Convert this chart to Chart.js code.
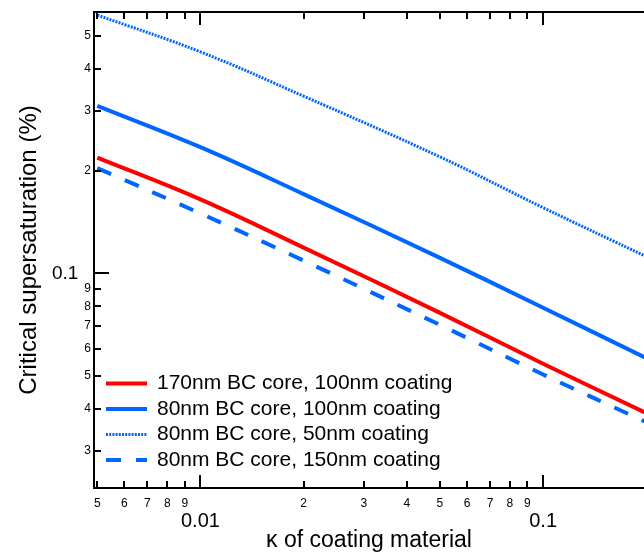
<!DOCTYPE html>
<html>
<head>
<meta charset="utf-8">
<script src="https://cdn.jsdelivr.net/npm/chart.js@4"></script>
<style>
  body { margin: 0; background: #fff; }
  canvas { display: block; }
</style>
</head>
<body>
<canvas id="ssChart" width="644" height="554"></canvas>
<script>
// kappa of coating material (x) and critical supersaturation in % (y)
const kappa = [0.005, 0.01, 0.02, 0.05, 0.1, 0.2];
const bc170coat100 = [0.219, 0.165, 0.119, 0.0765, 0.0542, 0.0388];
const bc80coat100 = [0.311, 0.235, 0.171, 0.111, 0.0792, 0.0563];
const bc80coat50 = [0.575, 0.448, 0.332, 0.220, 0.156, 0.112];
const bc80coat150 = [0.204, 0.150, 0.109, 0.0705, 0.0504, 0.0365];

const seriesLabels = [
  '170nm BC core, 100nm coating',
  '80nm BC core, 100nm coating',
  '80nm BC core, 50nm coating',
  '80nm BC core, 150nm coating'
];

const xTickValues = [0.005, 0.006, 0.007, 0.008, 0.009, 0.01, 0.02, 0.03, 0.04, 0.05, 0.06, 0.07, 0.08, 0.09, 0.1];
const xTickLabels = ['5', '6', '7', '8', '9', ['', '0.01'], '2', '3', '4', '5', '6', '7', '8', '9', ['', '0.1']];
const xMajor = [0.01, 0.1];

const yTickValues = [0.03, 0.04, 0.05, 0.06, 0.07, 0.08, 0.09, 0.1, 0.2, 0.3, 0.4, 0.5];
const yTickLabels = ['3', '4', '5', '6', '7', '8', '9', '0.1\u2002\u2006', '2', '3', '4', '5'];
const yMajor = [0.1];

const RED = '#ff0000';
const BLUE = '#0066ff';
const FONT = '"Liberation Sans", Arial, sans-serif';

function points(ys) {
  return kappa.map((k, i) => ({ x: k, y: ys[i] }));
}

function setTicks(values, majors) {
  return scale => {
    scale.ticks = values.map(v => ({ value: v, major: majors.includes(v) }));
  };
}

// inward tick marks, top frame line and the legend inside the plot
const axisFrame = {
  id: 'axisFrame',
  afterDraw(chart) {
    const { ctx, chartArea: a, scales: { x, y } } = chart;
    ctx.save();
    ctx.strokeStyle = '#000';
    ctx.lineWidth = 2;
    ctx.beginPath();
    ctx.moveTo(a.left - 1, a.top);
    ctx.lineTo(a.right, a.top);
    xTickValues.forEach(v => {
      const px = Math.round(x.getPixelForValue(v));
      const len = xMajor.includes(v) ? 13 : 7;
      ctx.moveTo(px, a.bottom);
      ctx.lineTo(px, a.bottom - len);
      ctx.moveTo(px, a.top);
      ctx.lineTo(px, a.top + len);
    });
    yTickValues.forEach(v => {
      const py = Math.round(y.getPixelForValue(v));
      const len = yMajor.includes(v) ? 15 : 7;
      ctx.moveTo(a.left, py);
      ctx.lineTo(a.left + len, py);
    });
    ctx.stroke();

    ctx.font = '21px ' + FONT;
    ctx.textBaseline = 'middle';
    ctx.textAlign = 'left';
    chart.data.datasets.forEach((ds, i) => {
      const rowY = 383.5 + i * 25.5;
      ctx.strokeStyle = ds.borderColor;
      ctx.lineWidth = ds.borderWidth;
      ctx.setLineDash(ds.borderDash || []);
      ctx.beginPath();
      ctx.moveTo(106, rowY);
      ctx.lineTo(147, rowY);
      ctx.stroke();
      ctx.setLineDash([]);
      ctx.fillStyle = '#000';
      ctx.fillText(ds.label, 157, rowY);
    });
    ctx.restore();
  }
};

new Chart(document.getElementById('ssChart'), {
  type: 'line',
  data: {
    datasets: [
      { label: seriesLabels[0], data: points(bc170coat100), borderColor: RED, borderWidth: 4 },
      { label: seriesLabels[1], data: points(bc80coat100), borderColor: BLUE, borderWidth: 4 },
      { label: seriesLabels[2], data: points(bc80coat50), borderColor: BLUE, borderWidth: 3, borderDash: [2, 1.2] },
      { label: seriesLabels[3], data: points(bc80coat150), borderColor: BLUE, borderWidth: 4, borderDash: [15, 15] }
    ]
  },
  options: {
    responsive: false,
    animation: false,
    layout: { padding: { top: 12, left: 0, right: 0, bottom: 0 } },
    elements: {
      point: { radius: 0 },
      line: { tension: 0.4, borderCapStyle: 'butt' }
    },
    plugins: {
      legend: { display: false },
      tooltip: { enabled: false }
    },
    scales: {
      x: {
        type: 'logarithmic',
        min: 0.00489,
        max: 0.197,
        afterBuildTicks: setTicks(xTickValues, xMajor),
        afterFit: s => { s.height = 66; },
        grid: { display: false, drawTicks: false },
        border: { display: true, color: '#000', width: 2 },
        ticks: {
          autoSkip: false,
          maxRotation: 0,
          minRotation: 0,
          padding: 8,
          color: '#000',
          font: c => xMajor.includes(c.tick && c.tick.value)
            ? { family: FONT, size: 20, lineHeight: 0.85 }
            : { family: FONT, size: 12 },
          callback: (v, i) => xTickLabels[i]
        },
        title: {
          display: true,
          text: '\u03ba of coating material',
          color: '#000',
          font: { family: FONT, size: 23 },
          padding: { top: 0, bottom: 0 }
        }
      },
      y: {
        type: 'logarithmic',
        min: 0.02336,
        max: 0.587,
        afterBuildTicks: setTicks(yTickValues, yMajor),
        afterFit: s => { s.width = 94; },
        grid: { display: false, drawTicks: false },
        border: { display: true, color: '#000', width: 2 },
        ticks: {
          autoSkip: false,
          padding: 3,
          color: '#000',
          font: c => yMajor.includes(c.tick && c.tick.value)
            ? { family: FONT, size: 19 }
            : { family: FONT, size: 12 },
          callback: (v, i) => yTickLabels[i]
        },
        title: {
          display: true,
          text: 'Critical supersaturation (%)',
          color: '#000',
          font: { family: FONT, size: 24 },
          padding: { top: 15, bottom: 0 }
        }
      }
    }
  },
  plugins: [axisFrame]
});
</script>
</body>
</html>
